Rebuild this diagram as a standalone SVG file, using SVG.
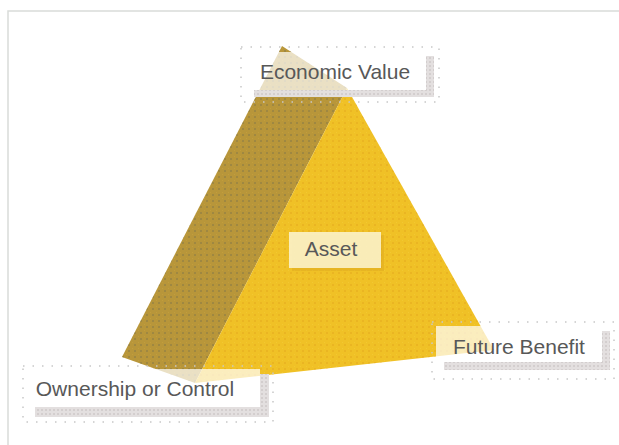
<svg xmlns="http://www.w3.org/2000/svg" width="619" height="445" viewBox="0 0 619 445">
  <style>
    .frame { fill: none; stroke: #d9dcd9; stroke-width: 1.5; }
    .side { fill: #b8963a; }
    .front { fill: #f0c126; }
    .body { fill: #ffffff; fill-opacity: 0.7; }
    .shade { fill: #e3dfdf; }
    .dots { fill: none; stroke: #c8c8c8; stroke-width: 1.5; stroke-dasharray: 1.5 8; }
    .label { font-family: "Liberation Sans", Arial, sans-serif; font-size: 21px; fill: #585858; text-anchor: middle; }
  </style>
  <defs>
    <pattern id="grainDark" width="6" height="6" patternUnits="userSpaceOnUse">
      <circle cx="3" cy="3" r="1.1" fill="#7f7448" fill-opacity="0.55"/>
      <circle cx="0" cy="0" r="0.9" fill="#d8ad3c" fill-opacity="0.5"/>
    </pattern>
    <pattern id="grainBright" width="6" height="6" patternUnits="userSpaceOnUse">
      <circle cx="3" cy="3" r="1.1" fill="#e0a21a" fill-opacity="0.5"/>
      <circle cx="0" cy="0" r="0.9" fill="#f7d64a" fill-opacity="0.5"/>
    </pattern>
    <pattern id="grainShade" width="4" height="4" patternUnits="userSpaceOnUse">
      <circle cx="2" cy="2" r="0.9" fill="#bdb6b6" fill-opacity="0.6"/>
    </pattern>
  </defs>

  <!-- page frame -->
  <path class="frame" d="M8,445 V11 H619"/>

  <!-- three-dimensional triangle -->
  <g id="pyramid">
    <polygon class="side" points="282,46 347,88 195,383 122,357"/>
    <polygon fill="url(#grainDark)" points="282,46 347,88 195,383 122,357"/>
    <polygon class="front" points="347,88 494,350 195,383"/>
    <polygon fill="url(#grainBright)" points="347,88 494,350 195,383"/>
  </g>

  <g id="connectors"></g>

  <!-- centre label -->
  <g id="asset">
    <rect x="292" y="235" width="92" height="36" fill="#d9a21e" fill-opacity="0.4"/>
    <rect x="289" y="232" width="92" height="36" fill="#fbf1c6" fill-opacity="0.92"/>
    <text class="label" x="331" y="256" font-size="19">Asset</text>
  </g>

  <!-- corner labels -->
  <g id="economic-value">
    <rect class="dots" x="241" y="47" width="198" height="55"/>
    <path class="shade" d="M426,56 H434 V97 H254 V90 H426 Z"/>
    <path fill="url(#grainShade)" d="M426,56 H434 V97 H254 V90 H426 Z"/>
    <rect class="body" x="246" y="52" width="180" height="38"/>
    <text class="label" x="335" y="79">Economic Value</text>
  </g>

  <g id="future-benefit">
    <rect class="dots" x="432" y="322" width="182" height="57"/>
    <path class="shade" d="M602,331 H610 V370 H444 V362 H602 Z"/>
    <path fill="url(#grainShade)" d="M602,331 H610 V370 H444 V362 H602 Z"/>
    <rect class="body" x="436" y="326" width="166" height="36"/>
    <text class="label" x="519" y="354">Future Benefit</text>
  </g>

  <g id="ownership-or-control">
    <rect class="dots" x="23" y="366" width="250" height="56"/>
    <path class="shade" d="M260,374 H269 V417 H35 V407 H260 Z"/>
    <path fill="url(#grainShade)" d="M260,374 H269 V417 H35 V407 H260 Z"/>
    <rect class="body" x="27" y="369" width="233" height="38"/>
    <text class="label" x="135" y="396">Ownership or Control</text>
  </g>
</svg>
